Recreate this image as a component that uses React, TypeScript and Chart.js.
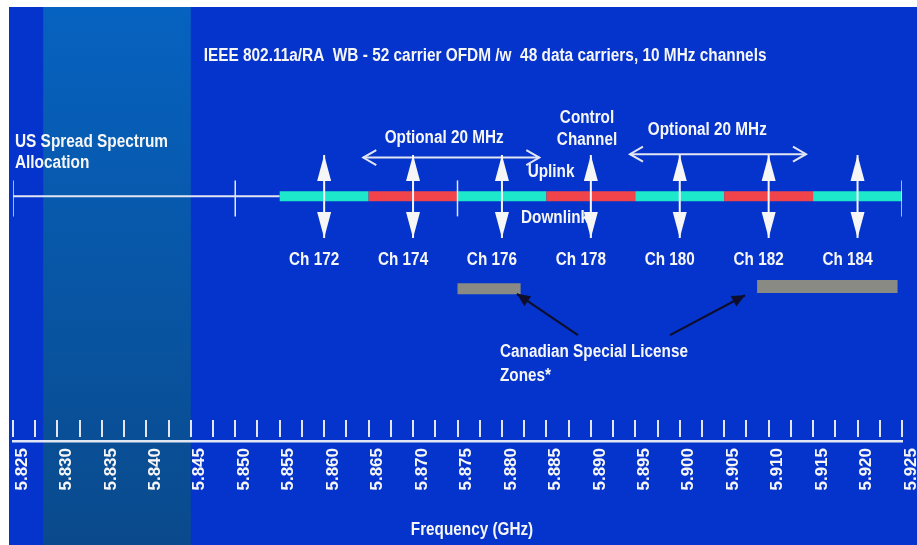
import React, { useEffect, useRef } from 'react';
import { Chart, registerables } from 'chart.js';

Chart.register(...registerables);

// ---------------- data ----------------
const TICK_LABELS = ['5.825', '5.830', '5.835', '5.840', '5.845', '5.850', '5.855', '5.860', '5.865', '5.870', '5.875', '5.880', '5.885', '5.890', '5.895', '5.900', '5.905', '5.910', '5.915', '5.920', '5.925'];
const CHANNEL_LABELS = ['Ch 172', 'Ch 174', 'Ch 176', 'Ch 178', 'Ch 180', 'Ch 182', 'Ch 184'];
const CHANNEL_CENTERS = [5.86, 5.87, 5.88, 5.89, 5.9, 5.91, 5.92];
const CHANNEL_EDGES = [5.855, 5.865, 5.875, 5.885, 5.895, 5.905, 5.915, 5.925];
const US_ALLOCATION_LINE = [5.825, 5.855];
const US_ALLOCATION_MARKS = [5.825, 5.85, 5.875, 5.925];
const SHADED_BAND = [5.8284, 5.845];
const OPTIONAL_20MHZ_SPANS = [[5.8644, 5.8842], [5.8944, 5.9142]];
const OPTIONAL_20MHZ_CENTERS = [5.8735, 5.9031];
const CANADIAN_ZONES = [[5.875, 5.8821], [5.9087, 5.9245]];
const CANADIAN_POINTERS = [[5.88855, 5.88169], [5.8989, 5.90734]];

const TITLE = 'IEEE 802.11a/RA  WB - 52 carrier OFDM /w  48 data carriers, 10 MHz channels';
const US_LABEL = ['US Spread Spectrum', 'Allocation'];
const OPTIONAL_LABEL = 'Optional 20 MHz';
const CONTROL_LABEL = ['Control', 'Channel'];
const UPLINK_LABEL = 'Uplink';
const DOWNLINK_LABEL = 'Downlink';
const CANADIAN_LABEL = ['Canadian Special License', 'Zones*'];
const AXIS_TITLE = 'Frequency (GHz)';

// ---------------- layout (y in 0..100 chart units, x in GHz) ----------------
const Y = {
  title: 88.7,
  us1: 68.9,
  us2: 64.1,
  line: 56.4,
  marks: 55.9,
  arrowTop: 65.9,
  arrowBottom: 46.8,
  optArrow: [65.3, 66.1],
  optText: [69.8, 71.7],
  control: 74.4,
  channel: 69.4,
  uplink: 62.0,
  downlink: 51.4,
  chLabel: 41.7,
  zones: [35.1, 35.6],
  pointerFrom: [24.4, 24.4],
  pointerTo: [33.9, 33.6],
  canadian1: 20.5,
  canadian2: 15.0,
  axisTitle: -20.5,
};
const X = {
  title: 5.8781,
  us: 5.82522,
  control: 5.88957,
  uplink: 5.88552,
  downlink: 5.88597,
  canadian: 5.87978,
  axisTitle: 5.87663,
};

// ---------------- styles ----------------
const FONT = '"Liberation Sans", Arial, Helvetica, sans-serif';
const BG = '#0534CC';
const BAND_TOP = '#0662C0';
const BAND_BOTTOM = '#0A4A8C';
const WHITE = '#f6f6f6';
const AXIS = '#e2e6f2';
const CYAN = '#1EE8CC';
const RED = '#F0444A';
const GRAY = '#8A8A84';
const POINTER = '#0E0E2C';

type Txt = { text: string; x: number; y: number; align: CanvasTextAlign; size: number; sx: number; dx?: number };

const TEXTS: Txt[] = [
  { text: TITLE, x: X.title, y: Y.title, align: 'center', size: 18, sx: 0.855 },
  { text: US_LABEL[0], x: X.us, y: Y.us1, align: 'left', size: 18, sx: 0.855 },
  { text: US_LABEL[1], x: X.us, y: Y.us2, align: 'left', size: 18, sx: 0.855 },
  ...OPTIONAL_20MHZ_CENTERS.map((x, i) => ({ text: OPTIONAL_LABEL, x, y: Y.optText[i], align: 'center' as CanvasTextAlign, size: 18, sx: 0.85 })),
  { text: CONTROL_LABEL[0], x: X.control, y: Y.control, align: 'center', size: 18, sx: 0.85 },
  { text: CONTROL_LABEL[1], x: X.control, y: Y.channel, align: 'center', size: 18, sx: 0.85 },
  { text: UPLINK_LABEL, x: X.uplink, y: Y.uplink, align: 'center', size: 18, sx: 0.85 },
  { text: DOWNLINK_LABEL, x: X.downlink, y: Y.downlink, align: 'center', size: 18, sx: 0.85 },
  ...CHANNEL_CENTERS.map((x, i) => ({ text: CHANNEL_LABELS[i], x, y: Y.chLabel, align: 'center' as CanvasTextAlign, size: 18, sx: 0.85, dx: -10 })),
  { text: CANADIAN_LABEL[0], x: X.canadian, y: Y.canadian1, align: 'left', size: 18, sx: 0.85 },
  { text: CANADIAN_LABEL[1], x: X.canadian, y: Y.canadian2, align: 'left', size: 18, sx: 0.85 },
  { text: AXIS_TITLE, x: X.axisTitle, y: Y.axisTitle, align: 'center', size: 18, sx: 0.85 },
];

const backgroundPlugin = {
  id: 'bgBand',
  beforeDraw(chart: any) {
    const { ctx, width, height } = chart;
    const xs = chart.scales.x;
    ctx.save();
    ctx.fillStyle = BG;
    ctx.fillRect(0, 0, width, height);
    const x0 = xs.getPixelForValue(SHADED_BAND[0]);
    const x1 = xs.getPixelForValue(SHADED_BAND[1]);
    const g = ctx.createLinearGradient(0, 0, 0, height);
    g.addColorStop(0, BAND_TOP);
    g.addColorStop(1, BAND_BOTTOM);
    ctx.fillStyle = g;
    ctx.fillRect(x0, 0, x1 - x0, height);
    ctx.restore();
  },
};

const textPlugin = {
  id: 'texts',
  beforeDatasetsDraw(chart: any) {
    const { ctx } = chart;
    const xs = chart.scales.x;
    const ys = chart.scales.y;
    ctx.save();
    ctx.fillStyle = WHITE;
    ctx.textBaseline = 'middle';
    TEXTS.forEach((t) => {
      ctx.save();
      ctx.font = `bold ${t.size}px ${FONT}`;
      ctx.textAlign = t.align;
      ctx.translate(xs.getPixelForValue(t.x) + (t.dx || 0), ys.getPixelForValue(t.y));
      ctx.scale(t.sx, 1);
      ctx.fillText(t.text, 0, 0);
      ctx.restore();
    });
    ctx.restore();
  },
};

const arrowPlugin = {
  id: 'arrowHeads',
  afterDatasetsDraw(chart: any) {
    const { ctx } = chart;
    chart.data.datasets.forEach((ds: any, i: number) => {
      const ah = ds.arrowHeads;
      if (!ah) return;
      const pts = chart.getDatasetMeta(i).data;
      if (pts.length < 2) return;
      const draw = (tip: any, from: any, kind: string) => {
        const ang = Math.atan2(tip.y - from.y, tip.x - from.x);
        ctx.save();
        ctx.translate(tip.x, tip.y);
        ctx.rotate(ang);
        ctx.beginPath();
        if (kind === 'solid') {
          ctx.moveTo(0, 0);
          ctx.lineTo(-ah.length, -ah.width / 2);
          ctx.lineTo(-ah.length, ah.width / 2);
          ctx.closePath();
          ctx.fillStyle = ah.color;
          ctx.fill();
        } else {
          ctx.moveTo(-ah.length, -ah.width / 2);
          ctx.lineTo(0, 0);
          ctx.lineTo(-ah.length, ah.width / 2);
          ctx.strokeStyle = ah.color;
          ctx.lineWidth = ah.lineWidth || 2;
          ctx.lineJoin = 'miter';
          ctx.stroke();
        }
        ctx.restore();
      };
      if (ah.start) draw(pts[0], pts[1], ah.start);
      if (ah.end) draw(pts[pts.length - 1], pts[pts.length - 2], ah.end);
    });
  },
};

const axisTickPlugin = {
  id: 'axisTicks',
  afterDraw(chart: any) {
    const { ctx, chartArea } = chart;
    const xs = chart.scales.x;
    const b = chartArea.bottom;
    ctx.save();
    ctx.strokeStyle = AXIS;
    ctx.lineWidth = 2;
    xs.ticks.forEach((t: any) => {
      const px = Math.round(xs.getPixelForValue(t.value));
      ctx.beginPath();
      ctx.moveTo(px, b - 21);
      ctx.lineTo(px, b - 4);
      ctx.stroke();
    });
    ctx.restore();
  },
};

function seg(x0: number, x1: number, y: number) {
  return [{ x: x0, y }, { x: x1, y }];
}

export default function App() {
  const canvasRef = useRef<HTMLCanvasElement>(null);

  useEffect(() => {
    if (!canvasRef.current) return;
    const datasets: any[] = [];

    datasets.push({
      label: 'US allocation',
      data: seg(US_ALLOCATION_LINE[0], US_ALLOCATION_LINE[1], Y.line),
      borderColor: AXIS,
      borderWidth: 2,
      pointRadius: 0,
      order: 20,
    });
    datasets.push({
      label: 'Channels',
      data: CHANNEL_EDGES.map((x) => ({ x, y: Y.line })),
      borderWidth: 10,
      borderCapStyle: 'butt',
      borderColor: CYAN,
      segment: { borderColor: (c: any) => (c.p0DataIndex % 2 === 0 ? CYAN : RED) },
      pointRadius: 0,
      order: 19,
    });
    datasets.push({
      label: 'Allocation marks',
      data: US_ALLOCATION_MARKS.map((x) => ({ x, y: Y.marks })),
      showLine: false,
      pointStyle: 'line',
      pointRotation: 90,
      pointRadius: 18,
      pointBorderColor: AXIS,
      pointBorderWidth: 1.5,
      order: 18,
    });
    CANADIAN_ZONES.forEach((z, i) => {
      datasets.push({
        label: 'Canadian zone ' + (i + 1),
        data: seg(z[0], z[1], Y.zones[i]),
        borderColor: GRAY,
        borderWidth: i === 0 ? 11 : 13,
        borderCapStyle: 'butt',
        pointRadius: 0,
        order: 17,
      });
    });
    CANADIAN_POINTERS.forEach((p, i) => {
      datasets.push({
        label: 'Pointer ' + (i + 1),
        data: [{ x: p[0], y: Y.pointerFrom[i] }, { x: p[1], y: Y.pointerTo[i] }],
        borderColor: POINTER,
        borderWidth: 2.2,
        pointRadius: 0,
        arrowHeads: { end: 'solid', length: 13, width: 12, color: POINTER },
        order: 5,
      });
    });
    OPTIONAL_20MHZ_SPANS.forEach((s, i) => {
      datasets.push({
        label: 'Optional 20 MHz ' + (i + 1),
        data: seg(s[0], s[1], Y.optArrow[i]),
        borderColor: AXIS,
        borderWidth: 2,
        pointRadius: 0,
        arrowHeads: { start: 'open', end: 'open', length: 13, width: 15, color: AXIS, lineWidth: 2 },
        order: 4,
      });
    });
    CHANNEL_CENTERS.forEach((f, i) => {
      datasets.push({
        label: CHANNEL_LABELS[i],
        data: [{ x: f, y: Y.arrowTop }, { x: f, y: Y.arrowBottom }],
        borderColor: WHITE,
        borderWidth: 2,
        pointRadius: 0,
        arrowHeads: { start: 'solid', end: 'solid', length: 26, width: 14, color: WHITE },
        order: 3,
      });
    });

    const chart = new Chart(canvasRef.current, {
      type: 'line',
      data: { datasets },
      options: {
        animation: false,
        responsive: false,
        events: [],
        layout: { autoPadding: false, padding: { left: 4, right: 15, top: 0, bottom: 0 } },
        plugins: { legend: { display: false }, tooltip: { enabled: false } },
        scales: {
          x: {
            type: 'linear',
            min: 5.825,
            max: 5.925,
            afterBuildTicks: (scale: any) => {
              const majors = TICK_LABELS.map((s) => parseFloat(s));
              const ticks: any[] = [];
              majors.forEach((v, i) => {
                ticks.push({ value: v });
                if (i < majors.length - 1) ticks.push({ value: (v + majors[i + 1]) / 2 });
              });
              scale.ticks = ticks;
            },
            afterFit: (scale: any) => {
              scale.height = 104;
              scale.paddingLeft = 0;
              scale.paddingRight = 0;
            },
            grid: { display: false, drawTicks: false },
            border: { display: true, color: AXIS, width: 2.5 },
            ticks: {
              autoSkip: false,
              minRotation: 90,
              maxRotation: 90,
              padding: 7,
              labelOffset: 9,
              color: WHITE,
              font: { family: FONT, size: 17, weight: 'bold' },
              callback: (_v: any, i: number) => (i % 2 === 0 ? TICK_LABELS[i / 2] : ''),
            },
          },
          y: { type: 'linear', min: 0, max: 100, display: false },
        },
      } as any,
      plugins: [backgroundPlugin, textPlugin, arrowPlugin, axisTickPlugin],
    });
    return () => chart.destroy();
  }, []);

  return (
    <div style={{ position: 'absolute', left: 9, top: 7, width: 908, height: 538 }}>
      <canvas ref={canvasRef} width={908} height={538} />
    </div>
  );
}
